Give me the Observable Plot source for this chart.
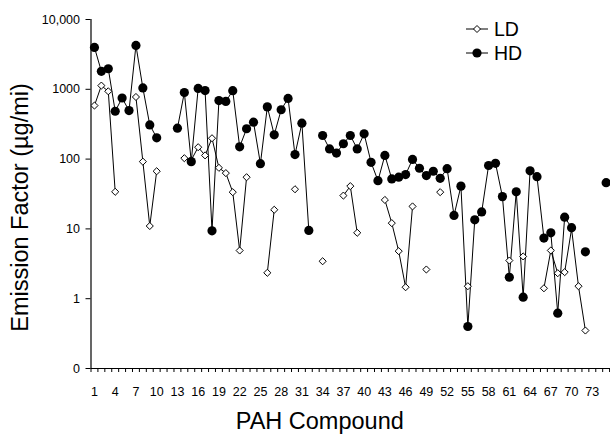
<!DOCTYPE html>
<html><head><meta charset="utf-8">
<script src="https://cdn.jsdelivr.net/npm/d3@7"></script>
<script src="https://cdn.jsdelivr.net/npm/@observablehq/plot@0.6"></script>
<style>
body{margin:0;background:#fff;font-family:"Liberation Sans",Arial,sans-serif;}
#wrap{position:relative;width:610px;height:436px;overflow:hidden;}
#legend{position:absolute;left:464px;top:17px;font-size:19.5px;color:#000;}
.row{display:flex;align-items:center;height:24px;}
.row svg{margin-right:4px;}
</style></head><body>
<div id="wrap"><div id="chart"></div><div id="legend"></div></div>
<script>
const compounds = d3.range(1, 76);
const ldValues = [585,1130,936,34,null,null,776,92,11,67,
  null,null,null,103,97,148,113,199,75,63,
  33.6,4.9,55,null,null,2.35,18.8,null,null,37,
  null,null,null,3.44,null,null,30,41,8.8,null,
  null,null,26,12.1,4.8,1.46,21,null,2.62,null,
  33.6,null,null,null,1.51,null,null,null,null,null,
  3.52,null,4.03,null,null,1.41,4.91,2.32,2.40,10,
  1.51,0.35,null,null,null];
const hdValues = [3980,1810,1970,485,751,495,4250,1045,309,202,
  null,null,277,900,92,1030,960,9.4,690,670,
  955,150,272,338,86,560,223,509,740,116,
  327,9.5,null,218,140,122,166,218,140,230,
  90,49,113,52,55,60,99,74,58,67,
  53,73,15.6,41,0.40,13.5,17.5,81,87,29,
  2.03,34,1.05,68,56,7.4,8.8,0.62,14.7,10.4,
  null,4.7,null,null,46];
const seriesNames = ["LD", "HD"];
const yTicks = [0.1, 1, 10, 100, 1000, 10000];
const yTickLabels = ["0", "1", "10", "100", "1000", "10,000"];
const xLabelTicks = d3.range(1, 74, 3);
const xMinorTicks = d3.range(0.5, 76, 1);
const yTitle = "Emission Factor (\u00b5g/mi)";
const xTitle = "PAH Compound";

const rows = compounds.map((c, i) => ({c, ld: ldValues[i], hd: hdValues[i]}));
const font = "Liberation Sans, Arial, sans-serif";

const chart = Plot.plot({
  width: 610, height: 436,
  marginTop: 19, marginBottom: 68, marginLeft: 90.5, marginRight: 0,
  style: {fontFamily: font, fontSize: "12.5px", color: "#000", background: "#fff"},
  x: {domain: [0.5, 75.63], label: null},
  y: {type: "log", domain: [0.1, 10000], label: null},
  marks: [
    Plot.axisX(xMinorTicks, {tickSize: 4, tickFormat: () => "", label: null, stroke: "#000"}),
    Plot.axisX(xLabelTicks, {tickSize: 0, tickPadding: 19, fontSize: 12.5, label: null}),
    Plot.axisY(yTicks, {tickSize: 5, tickPadding: 6, fontSize: 12.5, label: null,
      tickFormat: d => yTickLabels[yTicks.indexOf(d)]}),
    Plot.ruleX([0.5], {stroke: "#000", strokeWidth: 1.2}),
    Plot.ruleY([0.1], {stroke: "#000", strokeWidth: 1.2}),
    Plot.line(rows, {x: "c", y: "ld", stroke: "#000", strokeWidth: 1}),
    Plot.line(rows, {x: "c", y: "hd", stroke: "#000", strokeWidth: 1}),
    Plot.dot(rows, {x: "c", y: "ld", symbol: "diamond2", r: 3.2, stroke: "#000", fill: "#fff", strokeWidth: 1}),
    Plot.dot(rows, {x: "c", y: "hd", r: 4.6, fill: "#000", stroke: "none"}),
    Plot.text([yTitle], {frameAnchor: "left", rotate: -90, textAnchor: "middle", lineAnchor: "middle",
      dx: -70.5, dy: 13.5, fontSize: 23.5, fill: "#000"}),
    Plot.text([xTitle], {frameAnchor: "bottom", textAnchor: "middle", lineAnchor: "middle",
      dx: -31, dy: 53, fontSize: 23.5, fill: "#000"})
  ]
});
document.getElementById("chart").appendChild(chart);

const legend = d3.select("#legend");
seriesNames.forEach(name => {
  const row = legend.append("div").attr("class", "row");
  const svg = row.append("svg").attr("width", 26).attr("height", 14);
  svg.append("line").attr("x1", 2).attr("x2", 24).attr("y1", 7).attr("y2", 7).attr("stroke", "#000");
  if (name === "LD") {
    svg.append("path").attr("d", "M13,3.5L16.5,7L13,10.5L9.5,7Z").attr("fill", "#fff").attr("stroke", "#000");
  } else {
    svg.append("circle").attr("cx", 13).attr("cy", 7).attr("r", 4.6).attr("fill", "#000");
  }
  row.append("span").text(name);
});
</script>
</body></html>
